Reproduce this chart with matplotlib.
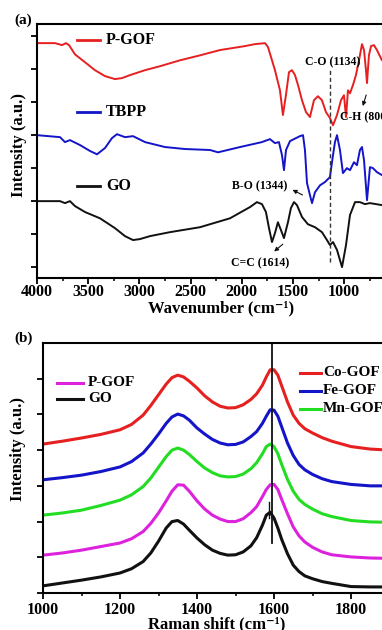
import matplotlib
matplotlib.use("Agg")
import matplotlib.pyplot as plt
from matplotlib.ticker import MultipleLocator

plt.rcParams['font.family'] = ['Liberation Serif', 'DejaVu Serif']
plt.rcParams['font.weight'] = 'bold'

# ---------------- FTIR data (panel a) ----------------
pgof_w = [4000, 3824, 3756, 3717, 3687, 3629, 3531, 3434, 3336, 3238, 3170, 3092, 2945, 2799,
          2603, 2408, 2213, 1969, 1871, 1773, 1744, 1705, 1676, 1627, 1598, 1569, 1539, 1510,
          1480, 1451, 1412, 1373, 1334, 1295, 1256, 1217, 1178, 1139, 1109, 1070, 1031, 1002,
          982, 963, 943, 914, 885, 855, 826, 806, 787, 777, 758, 738, 709, 680, 631, 600, 500, 400]
pgof_i = [6.79, 6.79, 6.73, 6.79, 6.73, 6.45, 6.21, 5.97, 5.79, 5.70, 5.73, 5.82, 5.97, 6.09,
          6.27, 6.42, 6.58, 6.70, 6.76, 6.79, 6.67, 6.27, 5.97, 5.36, 4.61, 5.21, 5.91, 5.97,
          5.82, 5.52, 5.06, 4.70, 4.55, 5.06, 5.18, 5.06, 4.70, 4.52, 4.30, 4.61, 5.06, 5.21,
          4.55, 5.36, 5.27, 5.52, 5.82, 6.27, 6.76, 6.58, 5.97, 5.58, 6.42, 6.70, 6.73, 6.58,
          6.27, 6.42, 6.55, 6.55]

tbpp_w = [4000, 3775, 3727, 3678, 3580, 3482, 3414, 3336, 3268, 3219, 3141, 3062, 2945, 2750,
          2555, 2310, 2232, 2017, 1803, 1725, 1676, 1637, 1607, 1588, 1568, 1529, 1471, 1432,
          1402, 1383, 1363, 1334, 1314, 1285, 1236, 1187, 1139, 1119, 1090, 1070, 1041, 1012,
          973, 943, 904, 875, 846, 826, 806, 777, 748, 719, 680, 631, 500, 400]
tbpp_i = [4.00, 3.94, 3.79, 3.85, 3.70, 3.52, 3.42, 3.61, 3.91, 4.03, 3.94, 3.97, 3.79, 3.64,
          3.58, 3.55, 3.48, 3.64, 3.79, 3.88, 3.76, 3.79, 3.39, 2.94, 3.55, 3.82, 3.91, 3.97,
          4.00, 3.55, 2.55, 2.18, 1.94, 2.27, 2.48, 2.58, 2.73, 3.18, 3.79, 4.00, 3.55, 2.85,
          3.00, 2.94, 3.18, 3.09, 3.55, 3.64, 3.24, 2.03, 3.03, 3.00, 2.88, 2.79, 2.90, 3.00]

go_w = [4000, 3775, 3727, 3678, 3629, 3531, 3385, 3238, 3141, 3062, 2994, 2896, 2701, 2408,
        2115, 1920, 1852, 1803, 1764, 1734, 1705, 1676, 1647, 1617, 1588, 1549, 1520, 1490,
        1461, 1412, 1354, 1285, 1217, 1168, 1139, 1109, 1070, 1021, 982, 943, 894, 846, 797,
        748, 631, 500, 400]
go_i = [2.00, 2.00, 1.94, 2.00, 1.85, 1.67, 1.48, 1.18, 0.94, 0.82, 0.85, 0.94, 1.06, 1.21,
        1.48, 1.82, 1.97, 1.91, 1.67, 1.18, 0.76, 1.03, 1.36, 1.12, 0.88, 1.36, 1.79, 1.97,
        1.88, 1.52, 1.30, 1.21, 1.06, 0.82, 0.67, 0.76, 0.52, 0.00, 0.67, 1.58, 1.97, 1.97,
        1.91, 1.94, 1.88, 1.90, 1.90]

# ---------------- Raman data (panel b) ----------------
raman_x = [1000, 1050, 1100, 1150, 1200, 1230, 1260, 1280, 1300, 1320, 1335, 1350, 1365, 1380,
           1400, 1420, 1440, 1460, 1480, 1500, 1520, 1540, 1555, 1570, 1580, 1590, 1600, 1610,
           1620, 1635, 1650, 1665, 1680, 1700, 1725, 1750, 1800, 1850, 1900]
co_r = [4.17, 4.25, 4.34, 4.44, 4.57, 4.72, 4.98, 5.25, 5.55, 5.85, 6.03, 6.10, 6.05, 5.93,
        5.74, 5.52, 5.35, 5.23, 5.18, 5.19, 5.27, 5.42, 5.58, 5.82, 6.05, 6.25, 6.25, 6.10,
        5.80, 5.35, 4.98, 4.75, 4.60, 4.48, 4.35, 4.25, 4.10, 4.03, 4.00]
fe_r = [3.17, 3.23, 3.30, 3.40, 3.53, 3.68, 3.92, 4.17, 4.45, 4.75, 4.93, 5.01, 4.96, 4.84,
        4.62, 4.45, 4.30, 4.20, 4.15, 4.16, 4.23, 4.38, 4.52, 4.75, 4.95, 5.13, 5.12, 4.95,
        4.65, 4.20, 3.85, 3.60, 3.45, 3.32, 3.20, 3.12, 3.04, 3.00, 3.00]
mn_r = [2.18, 2.24, 2.32, 2.45, 2.60, 2.75, 2.98, 3.22, 3.52, 3.82, 4.00, 4.06, 4.00, 3.88,
        3.68, 3.50, 3.37, 3.28, 3.25, 3.26, 3.33, 3.48, 3.65, 3.90, 4.10, 4.17, 4.10, 3.90,
        3.60, 3.18, 2.85, 2.62, 2.48, 2.35, 2.22, 2.14, 2.03, 1.99, 1.98]
pgof_r = [1.06, 1.12, 1.20, 1.30, 1.40, 1.52, 1.72, 1.95, 2.24, 2.58, 2.85, 3.03, 3.02, 2.85,
          2.58, 2.35, 2.18, 2.07, 2.00, 2.00, 2.08, 2.25, 2.42, 2.70, 2.90, 3.03, 3.04, 2.90,
          2.62, 2.22, 1.85, 1.60, 1.43, 1.28, 1.15, 1.07, 1.01, 0.98, 0.97]
go_r = [0.20, 0.28, 0.36, 0.45, 0.56, 0.68, 0.88, 1.12, 1.45, 1.82, 2.00, 2.03, 1.93, 1.76,
        1.54, 1.35, 1.20, 1.11, 1.06, 1.07, 1.15, 1.32, 1.55, 1.90, 2.18, 2.26, 2.10, 1.82,
        1.50, 1.10, 0.78, 0.60, 0.48, 0.40, 0.32, 0.27, 0.18, 0.17, 0.17]

RED = '#e62020'
BLUE = '#1414c8'
GREEN = '#22dd22'
MAG = '#dd22dd'
BLK = '#111111'

W, H = 382, 630
fig = plt.figure(figsize=(W / 100, H / 100), dpi=100)

def fx(px):
    return px / W

def fy(py):
    return 1 - py / H

TF = 11.5

def style(ax, pad):
    for s in ['left', 'bottom', 'top']:
        ax.spines[s].set_linewidth(1.5)
    ax.spines['right'].set_visible(False)
    ax.tick_params(axis='both', which='major', direction='out', length=4, width=1.3,
                   labelsize=TF, top=False, right=False, pad=pad)
    ax.tick_params(axis='both', which='minor', direction='out', length=2.5, width=1.1,
                   top=False, right=False)
    ax.set_yticklabels([])
    for lab in ax.get_xticklabels():
        lab.set_fontweight('bold')

# ---------- panel (a) ----------
a_left, a_top, a_bot = 37, 24, 278
a_w = 368.6
axa = fig.add_axes([fx(a_left), fy(a_bot), a_w / W, (a_bot - a_top) / H])
axa.plot(pgof_w, pgof_i, color=RED, lw=1.4)
axa.plot(tbpp_w, tbpp_i, color=BLUE, lw=1.4)
axa.plot(go_w, go_i, color=BLK, lw=1.4)
axa.set_xlim(4000, 400)
axa.set_ylim(-0.33, 7.37)
axa.set_xticks([4000, 3500, 3000, 2500, 2000, 1500, 1000])
axa.xaxis.set_minor_locator(MultipleLocator(250))
axa.set_yticks(range(0, 8))
style(axa, 0.5)
axa.set_xlabel('Wavenumber (cm\u207b\u00b9)', fontsize=12, fontweight='bold', labelpad=0)
axa.axvline(1134, ymin=(0.15 + 0.33) / 7.7, ymax=(5.97 + 0.33) / 7.7, color='#333333',
            lw=1.0, ls=(0, (3, 2)))

afs = 8.5
axa.text(1110, 6.21, 'C-O (1134)', fontsize=afs, ha='center', va='center')
axa.text(1045, 4.55, 'C-H (800)', fontsize=afs, ha='left', va='center')
axa.annotate('', xy=(826, 4.80), xytext=(777, 5.30),
             arrowprops=dict(arrowstyle='-|>', color=BLK, lw=0.8, mutation_scale=6))
axa.text(1822, 2.45, 'B-O (1344)', fontsize=afs, ha='center', va='center')
axa.annotate('', xy=(1529, 2.38), xytext=(1383, 2.15),
             arrowprops=dict(arrowstyle='-|>', color=BLK, lw=0.8, mutation_scale=6))
axa.text(1822, 0.12, 'C=C (1614)', fontsize=afs, ha='center', va='center')
axa.annotate('', xy=(1705, 0.42), xytext=(1578, 0.75),
             arrowprops=dict(arrowstyle='-|>', color=BLK, lw=0.8, mutation_scale=6))

for col, lab, yy in [(RED, 'P-GOF', 40), (BLUE, 'TBPP', 112), (BLK, 'GO', 186)]:
    yf = (a_bot - yy) / (a_bot - a_top)
    axa.plot([(77 - a_left) / a_w, (100 - a_left) / a_w], [yf, yf], color=col, lw=2,
             transform=axa.transAxes, clip_on=False)
    axa.text((106 - a_left) / a_w, yf, lab, transform=axa.transAxes, fontsize=11.5,
             fontweight='bold', va='center', ha='left')

fig.text(fx(14), fy(20), '(a)', fontsize=11, fontweight='bold', va='center', ha='left')
fig.text(fx(19), fy(145), 'Intensity (a.u.)', rotation=90, fontsize=12, fontweight='bold',
         ha='center', va='center')

# ---------- panel (b) ----------
b_left, b_top, b_bot = 43, 343, 593
b_w = 346.5
axb = fig.add_axes([fx(b_left), fy(b_bot), b_w / W, (b_bot - b_top) / H])
axb.plot(raman_x, co_r, color=RED, lw=2.2)
axb.plot(raman_x, fe_r, color=BLUE, lw=2.2)
axb.plot(raman_x, mn_r, color=GREEN, lw=2.2)
axb.plot(raman_x, pgof_r, color=MAG, lw=2.2)
axb.plot(raman_x, go_r, color=BLK, lw=2.2)
axb.set_xlim(1000, 1900)
axb.set_ylim(0, 7)
axb.set_xticks([1000, 1200, 1400, 1600, 1800])
axb.xaxis.set_minor_locator(MultipleLocator(100))
axb.set_yticks(range(0, 7))
style(axb, 2.5)
axb.set_xlabel('Raman shift (cm\u207b\u00b9)', fontsize=12, fontweight='bold', labelpad=-1)
axb.plot([1594, 1594], [1.4, 7.0], color=BLK, lw=1.3)
axb.plot([1588, 1588], [2.1, 2.55], color=BLK, lw=1.0)

for col, lab, yy, x0, x1, xt in [(MAG, 'P-GOF', 383, 57, 83, 88), (BLK, 'GO', 399, 57, 83, 88),
                                  (RED, 'Co-GOF', 373, 300, 321, 323),
                                  (BLUE, 'Fe-GOF', 391, 300, 321, 323),
                                  (GREEN, 'Mn-GOF', 409, 300, 321, 323)]:
    yf = (b_bot - yy) / (b_bot - b_top)
    axb.plot([(x0 - b_left) / b_w, (x1 - b_left) / b_w], [yf, yf], color=col, lw=2.2,
             transform=axb.transAxes, clip_on=False)
    axb.text((xt - b_left) / b_w, yf, lab, transform=axb.transAxes, fontsize=11,
             fontweight='bold', va='center', ha='left')

fig.text(fx(14), fy(338), '(b)', fontsize=11, fontweight='bold', va='center', ha='left')
fig.text(fx(18), fy(449), 'Intensity (a.u.)', rotation=90, fontsize=12, fontweight='bold',
         ha='center', va='center')

fig.savefig('out.png', dpi=100)
